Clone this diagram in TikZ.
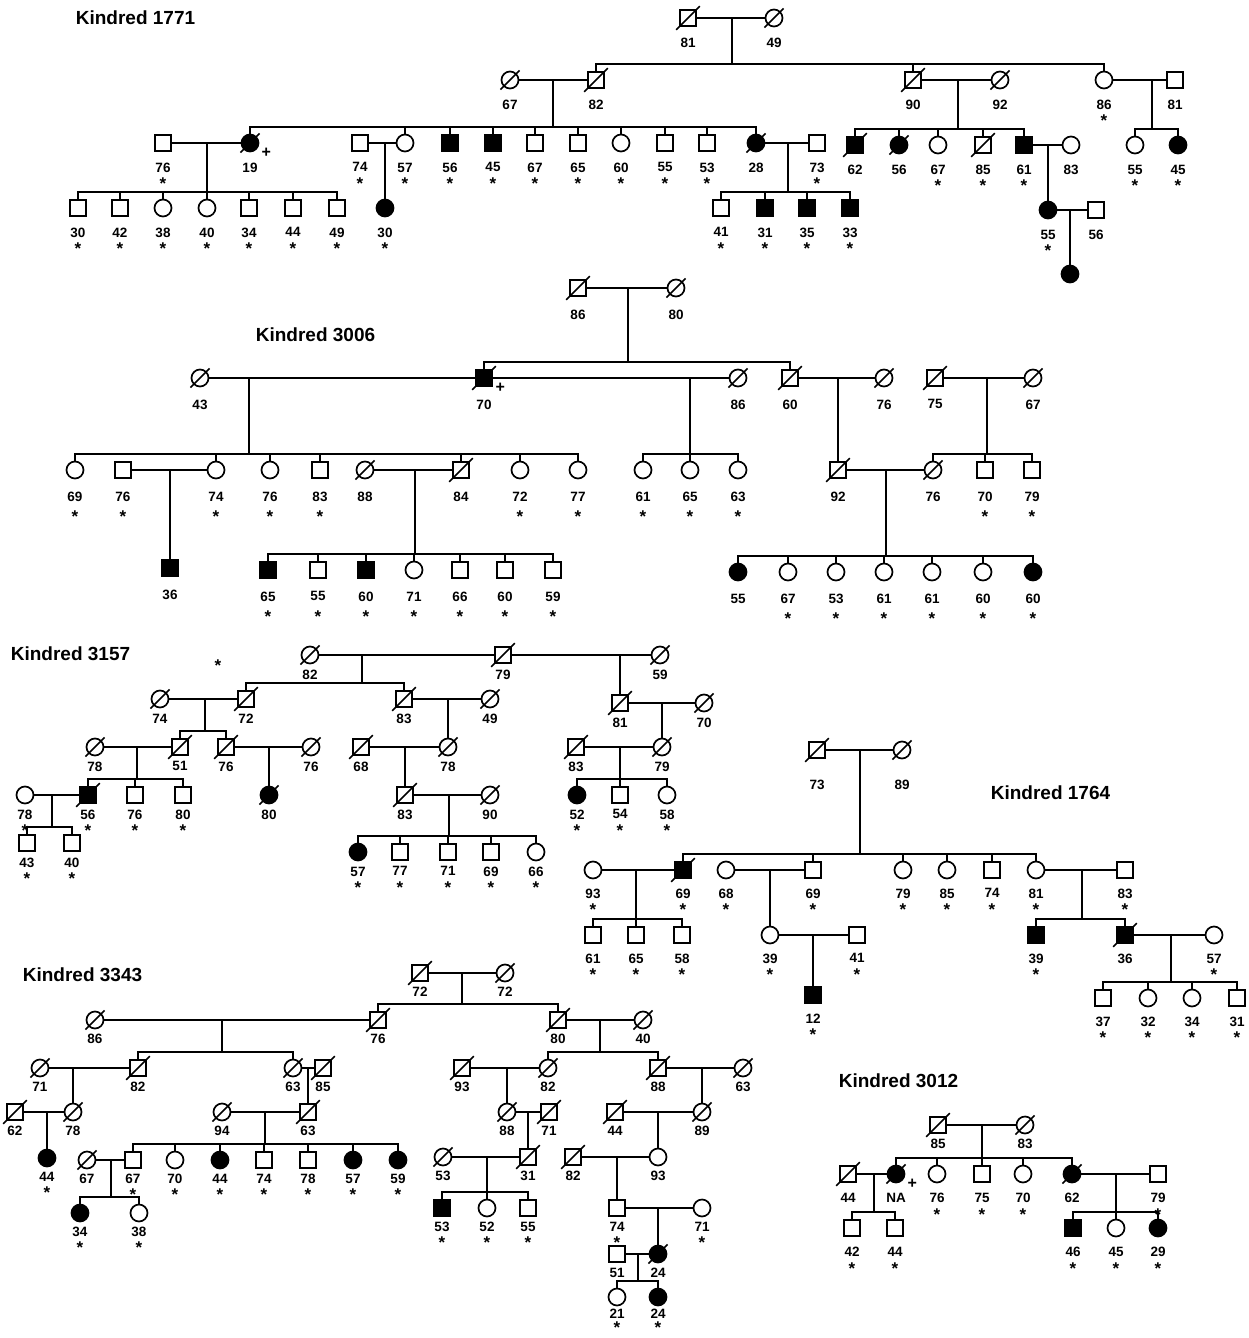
\documentclass[tikz,border=0pt]{standalone}
\usepackage{fontspec}
\setmainfont{Liberation Sans}

% descent line, sibship bar and stubs
\newcommand{\sibs}[4]{%
  \draw[shorten >=7pt] (#1) -- (#1 |- #2.north);
  \draw (#2.north) -- ++(0,-7) -| (#3.north);
  \foreach \kid in {#4} \draw (\kid.north) -- ++(0,-7);
}
% slash through deceased individuals
\newcommand{\deceased}[1]{%
  \foreach \who in {#1}
    \draw ([shift={(-3,3)}]\who.south west) -- ([shift={(3,-3)}]\who.north east);
}

\begin{document}
\begin{tikzpicture}[x=1pt, y=-1pt, line width=1.7pt,
    ma/.style={draw, rectangle, minimum size=16pt, inner sep=0pt, fill=white},
    fe/.style={draw, circle, minimum size=17pt, inner sep=0pt, fill=white},
    aff/.style={fill=black},
    lbl/.style={font=\fontsize{13.5}{13.5}\selectfont\bfseries, inner sep=0pt},
    stars/.style={font=\fontsize{17}{17}\selectfont\bfseries, inner sep=0pt},
    yr/.style={label={[lbl]below:#1}},
    seen/.style={label={[stars]below:*}},
    marked/.style={label={[lbl, font=\fontsize{16}{16}\selectfont\bfseries, label distance=2pt]-20:+}},
    kin/.style={font=\fontsize{19}{19}\selectfont\bfseries, anchor=west, inner sep=0pt}
]
\useasboundingbox (0,0) rectangle (1249,1338);

%% Kindred 1771
\begin{scope}[lbl/.append style={label distance=10pt}, stars/.append style={label distance=25pt}]
\node[kin] (t1771) at (75,18) {Kindred 1771};
% generation I
\node[ma, yr=81] (a11) at (688,18) {};
\node[fe, yr=49] (a12) at (774,18) {};
\coordinate (ad1) at (732,18);
\draw (a11) -- (a12);
% generation II
\node[fe, yr=67] (a21) at (510,80) {};
\node[ma, yr=82] (a22) at (596,80) {};
\node[ma, yr=90] (a23) at (913,80) {};
\node[fe, yr=92] (a24) at (1000,80) {};
\node[fe, yr=86, seen] (a25) at (1104,80) {};
\node[ma, yr=81] (a26) at (1175,80) {};
\coordinate (ad2) at (553,80);
\coordinate (ad3) at (958,80);
\coordinate (ad4) at (1152,80);
\draw (a21) -- (a22);
\draw (a23) -- (a24);
\draw (a25) -- (a26);
\sibs{ad1}{a22}{a25}{a22,a23,a25}
% generation III
\node[ma, yr=76, seen] (a31) at (163,143) {};
\node[fe, aff, yr=19, marked] (a32) at (250,143) {};
\node[ma, yr=74, seen] (a33) at (360,143) {};
\node[fe, yr=57, seen] (a34) at (405,143) {};
\node[ma, aff, yr=56, seen] (a35) at (450,143) {};
\node[ma, aff, yr=45, seen] (a36) at (493,143) {};
\node[ma, yr=67, seen] (a37) at (535,143) {};
\node[ma, yr=65, seen] (a38) at (578,143) {};
\node[fe, yr=60, seen] (a39) at (621,143) {};
\node[ma, yr=55, seen] (a310) at (665,143) {};
\node[ma, yr=53, seen] (a311) at (707,143) {};
\node[fe, aff, yr=28] (a312) at (756,143) {};
\node[ma, yr=73, seen] (a313) at (817,143) {};
\node[ma, aff, yr=62] (a314) at (855,145) {};
\node[fe, aff, yr=56] (a315) at (899,145) {};
\node[fe, yr=67, seen] (a316) at (938,145) {};
\node[ma, yr=85, seen] (a317) at (983,145) {};
\node[ma, aff, yr=61, seen] (a318) at (1024,145) {};
\node[fe, yr=83] (a319) at (1071,145) {};
\node[fe, yr=55, seen] (a320) at (1135,145) {};
\node[fe, aff, yr=45, seen] (a321) at (1178,145) {};
\sibs{ad2}{a32}{a312}{a32,a34,a35,a36,a37,a38,a39,a310,a311,a312}
\sibs{ad3}{a314}{a318}{a314,a315,a316,a317,a318}
\sibs{ad4}{a320}{a321}{a320,a321}
\coordinate (ad5) at (207,143);
\coordinate (ad6) at (385,143);
\coordinate (ad7) at (788,143);
\coordinate (ad8) at (1048,145);
\draw (a31) -- (a32);
\draw (a33) -- (a34);
\draw (a312) -- (a313);
\draw (a318) -- (a319);
% generation IV
\node[ma, yr=30, seen] (a41) at (78,208) {};
\node[ma, yr=42, seen] (a42) at (120,208) {};
\node[fe, yr=38, seen] (a43) at (163,208) {};
\node[fe, yr=40, seen] (a44) at (207,208) {};
\node[ma, yr=34, seen] (a45) at (249,208) {};
\node[ma, yr=44, seen] (a46) at (293,208) {};
\node[ma, yr=49, seen] (a47) at (337,208) {};
\node[fe, aff, yr=30, seen] (a48) at (385,208) {};
\node[ma, yr=41, seen] (a49) at (721,208) {};
\node[ma, aff, yr=31, seen] (a410) at (765,208) {};
\node[ma, aff, yr=35, seen] (a411) at (807,208) {};
\node[ma, aff, yr=33, seen] (a412) at (850,208) {};
\node[fe, aff, yr=55, seen] (a413) at (1048,210) {};
\node[ma, yr=56] (a414) at (1096,210) {};
\sibs{ad5}{a41}{a47}{a41,a42,a43,a44,a45,a46,a47}
\draw (ad6) -- (a48.north);
\sibs{ad7}{a49}{a412}{a49,a410,a411,a412}
\draw (ad8) -- (a413.north);
\draw (a413) -- (a414);
\coordinate (ad9) at (1070,210);
\node[fe, aff] (a51) at (1070,274) {};
\draw (ad9) -- (a51.north);
\deceased{a11,a12,a21,a22,a23,a24,a32,a312,a314,a315,a317}
\end{scope}

%% Kindred 3006
\begin{scope}[lbl/.append style={label distance=12pt}, stars/.append style={label distance=31pt}]
\node[kin] (t3006) at (255,335) {Kindred 3006};
% generation I
\node[ma, yr=86] (b11) at (578,288) {};
\node[fe, yr=80] (b12) at (676,288) {};
\coordinate (bd1) at (628,288);
\draw (b11) -- (b12);
% generation II
\node[fe, yr=43] (b21) at (200,378) {};
\node[ma, aff, yr=70, marked] (b22) at (484,378) {};
\node[fe, yr=86] (b23) at (738,378) {};
\node[ma, yr=60] (b24) at (790,378) {};
\node[fe, yr=76] (b25) at (884,378) {};
\node[ma, yr=75] (b26) at (935,378) {};
\node[fe, yr=67] (b27) at (1033,378) {};
\sibs{bd1}{b22}{b24}{b22,b24}
\coordinate (bd2) at (249,378);
\coordinate (bd3) at (690,378);
\coordinate (bd4) at (838,378);
\coordinate (bd5) at (987,378);
\draw (b21) -- (b22);
\draw (b22) -- (b23);
\draw (b24) -- (b25);
\draw (b26) -- (b27);
% generation III
\node[fe, yr=69, seen] (b31) at (75,470) {};
\node[ma, yr=76, seen] (b32) at (123,470) {};
\node[fe, yr=74, seen] (b33) at (216,470) {};
\node[fe, yr=76, seen] (b34) at (270,470) {};
\node[ma, yr=83, seen] (b35) at (320,470) {};
\node[fe, yr=88] (b36) at (365,470) {};
\node[ma, yr=84] (b37) at (461,470) {};
\node[fe, yr=72, seen] (b38) at (520,470) {};
\node[fe, yr=77, seen] (b39) at (578,470) {};
\node[fe, yr=61, seen] (b310) at (643,470) {};
\node[fe, yr=65, seen] (b311) at (690,470) {};
\node[fe, yr=63, seen] (b312) at (738,470) {};
\node[ma, yr=92] (b313) at (838,470) {};
\node[fe, yr=76] (b314) at (933,470) {};
\node[ma, yr=70, seen] (b315) at (985,470) {};
\node[ma, yr=79, seen] (b316) at (1032,470) {};
\sibs{bd2}{b31}{b39}{b31,b33,b34,b35,b37,b38,b39}
\sibs{bd3}{b310}{b312}{b310,b311,b312}
\draw (bd4) -- (b313.north);
\sibs{bd5}{b314}{b316}{b314,b315,b316}
\coordinate (bd6) at (170,470);
\coordinate (bd7) at (415,470);
\coordinate (bd8) at (886,470);
\draw (b32) -- (b33);
\draw (b36) -- (b37);
\draw (b313) -- (b314);
% generation IV
\node[ma, aff, yr=36] (b41) at (170,568) {};
\node[ma, aff, yr=65, seen] (b42) at (268,570) {};
\node[ma, yr=55, seen] (b43) at (318,570) {};
\node[ma, aff, yr=60, seen] (b44) at (366,570) {};
\node[fe, yr=71, seen] (b45) at (414,570) {};
\node[ma, yr=66, seen] (b46) at (460,570) {};
\node[ma, yr=60, seen] (b47) at (505,570) {};
\node[ma, yr=59, seen] (b48) at (553,570) {};
\node[fe, aff, yr=55] (b49) at (738,572) {};
\node[fe, yr=67, seen] (b410) at (788,572) {};
\node[fe, yr=53, seen] (b411) at (836,572) {};
\node[fe, yr=61, seen] (b412) at (884,572) {};
\node[fe, yr=61, seen] (b413) at (932,572) {};
\node[fe, yr=60, seen] (b414) at (983,572) {};
\node[fe, aff, yr=60, seen] (b415) at (1033,572) {};
\draw (bd6) -- (b41.north);
\sibs{bd7}{b42}{b48}{b42,b43,b44,b45,b46,b47,b48}
\sibs{bd8}{b49}{b415}{b49,b410,b411,b412,b413,b414,b415}
\deceased{b11,b12,b21,b22,b23,b24,b25,b26,b27,b36,b37,b313,b314}
\end{scope}

%% Kindred 3157
\begin{scope}[lbl/.append style={label distance=5pt}, stars/.append style={label distance=20pt}]
\node[kin] (t3157) at (10,654) {Kindred 3157};
\node[stars] (c0) at (218,666) {*};
% generation I
\node[fe, yr=82] (c11) at (310,655) {};
\node[ma, yr=79] (c12) at (503,655) {};
\node[fe, yr=59] (c13) at (660,655) {};
\coordinate (cd1) at (362,655);
\coordinate (cd2) at (620,655);
\draw (c11) -- (c12);
\draw (c12) -- (c13);
% generation II
\node[fe, yr=74] (c21) at (160,699) {};
\node[ma, yr=72] (c22) at (246,699) {};
\node[ma, yr=83] (c23) at (404,699) {};
\node[fe, yr=49] (c24) at (490,699) {};
\node[ma, yr=81] (c25) at (620,703) {};
\node[fe, yr=70] (c26) at (704,703) {};
\sibs{cd1}{c22}{c23}{c22,c23}
\draw (cd2) -- (c25.north);
\coordinate (cd3) at (205,699);
\coordinate (cd4) at (448,699);
\coordinate (cd5) at (662,703);
\draw (c21) -- (c22);
\draw (c23) -- (c24);
\draw (c25) -- (c26);
% generation III
\node[fe, yr=78] (c31) at (95,747) {};
\node[ma, yr=51] (c32) at (180,747) {};
\node[ma, yr=76] (c33) at (226,747) {};
\node[fe, yr=76] (c34) at (311,747) {};
\node[ma, yr=68] (c35) at (361,747) {};
\node[fe, yr=78] (c36) at (448,747) {};
\node[ma, yr=83] (c37) at (576,747) {};
\node[fe, yr=79] (c38) at (662,747) {};
\sibs{cd3}{c32}{c33}{c32,c33}
\draw (cd4) -- (c36.north);
\draw (cd5) -- (c38.north);
\coordinate (cd6) at (137,747);
\coordinate (cd7) at (269,747);
\coordinate (cd8) at (405,747);
\coordinate (cd9) at (620,747);
\draw (c31) -- (c32);
\draw (c33) -- (c34);
\draw (c35) -- (c36);
\draw (c37) -- (c38);
% generation IV
\node[fe, yr=78, seen] (c41) at (25,795) {};
\node[ma, aff, yr=56, seen] (c42) at (88,795) {};
\node[ma, yr=76, seen] (c43) at (135,795) {};
\node[ma, yr=80, seen] (c44) at (183,795) {};
\node[fe, aff, yr=80] (c45) at (269,795) {};
\node[ma, yr=83] (c46) at (405,795) {};
\node[fe, yr=90] (c47) at (490,795) {};
\node[fe, aff, yr=52, seen] (c48) at (577,795) {};
\node[ma, yr=54, seen] (c49) at (620,795) {};
\node[fe, yr=58, seen] (c410) at (667,795) {};
\sibs{cd6}{c42}{c44}{c42,c43,c44}
\draw (cd7) -- (c45.north);
\draw (cd8) -- (c46.north);
\sibs{cd9}{c48}{c410}{c48,c49,c410}
\coordinate (cd10) at (52,795);
\coordinate (cd11) at (449,795);
\draw (c41) -- (c42);
\draw (c46) -- (c47);
% generation V
\node[ma, yr=43, seen] (c51) at (27,843) {};
\node[ma, yr=40, seen] (c52) at (72,843) {};
\node[fe, aff, yr=57, seen] (c53) at (358,852) {};
\node[ma, yr=77, seen] (c54) at (400,852) {};
\node[ma, yr=71, seen] (c55) at (448,852) {};
\node[ma, yr=69, seen] (c56) at (491,852) {};
\node[fe, yr=66, seen] (c57) at (536,852) {};
\sibs{cd10}{c51}{c52}{c51,c52}
\sibs{cd11}{c53}{c57}{c53,c54,c55,c56,c57}
\deceased{c11,c12,c13,c21,c22,c23,c24,c25,c26,c31,c32,c33,c34,c35,c36,c37,c38,c42,c45,c46,c47}
\end{scope}

%% Kindred 1764
\begin{scope}[lbl/.append style={label distance=9pt}, stars/.append style={label distance=24pt}]
\node[kin] (t1764) at (990,793) {Kindred 1764};
% generation I
\node[ma, label={[lbl, label distance=20pt]below:73}] (d11) at (817,750) {};
\node[fe, label={[lbl, label distance=20pt]below:89}] (d12) at (902,750) {};
\coordinate (dd1) at (860,750);
\draw (d11) -- (d12);
% generation II
\node[fe, yr=93, seen] (d21) at (593,870) {};
\node[ma, aff, yr=69, seen] (d22) at (683,870) {};
\node[fe, yr=68, seen] (d23) at (726,870) {};
\node[ma, yr=69, seen] (d24) at (813,870) {};
\node[fe, yr=79, seen] (d25) at (903,870) {};
\node[fe, yr=85, seen] (d26) at (947,870) {};
\node[ma, yr=74, seen] (d27) at (992,870) {};
\node[fe, yr=81, seen] (d28) at (1036,870) {};
\node[ma, yr=83, seen] (d29) at (1125,870) {};
\sibs{dd1}{d22}{d28}{d22,d24,d25,d26,d27,d28}
\coordinate (dd2) at (636,870);
\coordinate (dd3) at (770,870);
\coordinate (dd4) at (1082,870);
\draw (d21) -- (d22);
\draw (d23) -- (d24);
\draw (d28) -- (d29);
% generation III
\node[ma, yr=61, seen] (d31) at (593,935) {};
\node[ma, yr=65, seen] (d32) at (636,935) {};
\node[ma, yr=58, seen] (d33) at (682,935) {};
\node[fe, yr=39, seen] (d34) at (770,935) {};
\node[ma, yr=41, seen] (d35) at (857,935) {};
\node[ma, aff, yr=39, seen] (d36) at (1036,935) {};
\node[ma, aff, yr=36] (d37) at (1125,935) {};
\node[fe, yr=57, seen] (d38) at (1214,935) {};
\sibs{dd2}{d31}{d33}{d31,d32,d33}
\draw (dd3) -- (d34.north);
\sibs{dd4}{d36}{d37}{d36,d37}
\coordinate (dd5) at (813,935);
\coordinate (dd6) at (1171,935);
\draw (d34) -- (d35);
\draw (d37) -- (d38);
% generation IV
\node[ma, aff, yr=12, seen] (d41) at (813,995) {};
\node[ma, yr=37, seen] (d42) at (1103,998) {};
\node[fe, yr=32, seen] (d43) at (1148,998) {};
\node[fe, yr=34, seen] (d44) at (1192,998) {};
\node[ma, yr=31, seen] (d45) at (1237,998) {};
\draw (dd5) -- (d41.north);
\sibs{dd6}{d42}{d45}{d42,d43,d44,d45}
\deceased{d11,d12,d22,d37}
\end{scope}

%% Kindred 3343
\begin{scope}[lbl/.append style={label distance=4pt}, stars/.append style={label distance=19pt}]
\node[kin] (t3343) at (22,975) {Kindred 3343};
% generation I
\node[ma, yr=72] (e11) at (420,973) {};
\node[fe, yr=72] (e12) at (505,973) {};
\coordinate (ed1) at (462,973);
\draw (e11) -- (e12);
% generation II
\node[fe, yr=86] (e21) at (95,1020) {};
\node[ma, yr=76] (e22) at (378,1020) {};
\node[ma, yr=80] (e23) at (558,1020) {};
\node[fe, yr=40] (e24) at (643,1020) {};
\sibs{ed1}{e22}{e23}{e22,e23}
\coordinate (ed2) at (222,1020);
\coordinate (ed3) at (600,1020);
\draw (e21) -- (e22);
\draw (e23) -- (e24);
% generation III
\node[fe, yr=71] (e31) at (40,1068) {};
\node[ma, yr=82] (e32) at (138,1068) {};
\node[fe, yr=63] (e33) at (293,1068) {};
\node[ma, yr=85] (e34) at (323,1068) {};
\node[ma, yr=93] (e35) at (462,1068) {};
\node[fe, yr=82] (e36) at (548,1068) {};
\node[ma, yr=88] (e37) at (658,1068) {};
\node[fe, yr=63] (e38) at (743,1068) {};
\sibs{ed2}{e32}{e33}{e32,e33}
\sibs{ed3}{e36}{e37}{e36,e37}
\coordinate (ed4) at (73,1068);
\coordinate (ed5) at (308,1068);
\coordinate (ed6) at (507,1068);
\coordinate (ed7) at (702,1068);
\draw (e31) -- (e32);
\draw (e33) -- (e34);
\draw (e35) -- (e36);
\draw (e37) -- (e38);
% generation IV
\node[ma, yr=62] (e41) at (15,1112) {};
\node[fe, yr=78] (e42) at (73,1112) {};
\node[fe, yr=94] (e43) at (222,1112) {};
\node[ma, yr=63] (e44) at (308,1112) {};
\node[fe, yr=88] (e45) at (507,1112) {};
\node[ma, yr=71] (e46) at (549,1112) {};
\node[ma, yr=44] (e47) at (615,1112) {};
\node[fe, yr=89] (e48) at (702,1112) {};
\draw (ed4) -- (e42.north);
\draw (ed5) -- (e44.north);
\draw (ed6) -- (e45.north);
\draw (ed7) -- (e48.north);
\coordinate (ed8) at (47,1112);
\coordinate (ed9) at (265,1112);
\coordinate (ed10) at (528,1112);
\coordinate (ed11) at (658,1112);
\draw (e41) -- (e42);
\draw (e43) -- (e44);
\draw (e45) -- (e46);
\draw (e47) -- (e48);
% generation V
\node[fe, aff, yr=44, seen] (e51) at (47,1158) {};
\node[fe, yr=67] (e52) at (87,1160) {};
\node[ma, yr=67, seen] (e53) at (133,1160) {};
\node[fe, yr=70, seen] (e54) at (175,1160) {};
\node[fe, aff, yr=44, seen] (e55) at (220,1160) {};
\node[ma, yr=74, seen] (e56) at (264,1160) {};
\node[ma, yr=78, seen] (e57) at (308,1160) {};
\node[fe, aff, yr=57, seen] (e58) at (353,1160) {};
\node[fe, aff, yr=59, seen] (e59) at (398,1160) {};
\node[fe, yr=53] (e510) at (443,1157) {};
\node[ma, yr=31] (e511) at (528,1157) {};
\node[ma, yr=82] (e512) at (573,1157) {};
\node[fe, yr=93] (e513) at (658,1157) {};
\draw (ed8) -- (e51.north);
\sibs{ed9}{e53}{e59}{e53,e54,e55,e56,e57,e58,e59}
\draw (ed10) -- (e511.north);
\draw (ed11) -- (e513.north);
\coordinate (ed12) at (111,1160);
\coordinate (ed13) at (487,1157);
\coordinate (ed14) at (617,1157);
\draw (e52) -- (e53);
\draw (e510) -- (e511);
\draw (e512) -- (e513);
% generation VI
\node[fe, aff, yr=34, seen] (e61) at (80,1213) {};
\node[fe, yr=38, seen] (e62) at (139,1213) {};
\node[ma, aff, yr=53, seen] (e63) at (442,1208) {};
\node[fe, yr=52, seen] (e64) at (487,1208) {};
\node[ma, yr=55, seen] (e65) at (528,1208) {};
\node[ma, yr=74, seen] (e66) at (617,1208) {};
\node[fe, yr=71, seen] (e67) at (702,1208) {};
\sibs{ed12}{e61}{e62}{e61,e62}
\sibs{ed13}{e63}{e65}{e63,e64,e65}
\draw (ed14) -- (e66.north);
\coordinate (ed15) at (658,1208);
\draw (e66) -- (e67);
% generation VII
\node[ma, yr=51] (e70) at (617,1254) {};
\node[fe, aff, yr=24] (e71) at (658,1254) {};
\draw (ed15) -- (e71.north);
\coordinate (ed16) at (638,1254);
\draw (e70) -- (e71);
% generation VIII
\node[fe, label={[lbl, label distance=2pt]below:21}, label={[stars, label distance=15pt]below:*}] (e81) at (617,1297) {};
\node[fe, aff, label={[lbl, label distance=2pt]below:24}, label={[stars, label distance=15pt]below:*}] (e82) at (658,1297) {};
\sibs{ed16}{e81}{e82}{e81,e82}
\deceased{e11,e12,e21,e22,e23,e24,e31,e32,e33,e34,e35,e36,e37,e38,e41,e42,e43,e44,e45,e46,e47,e48,e52,e510,e511,e512,e71}
\end{scope}

%% Kindred 3012
\begin{scope}[lbl/.append style={label distance=9pt}, stars/.append style={label distance=25pt}]
\node[kin] (t3012) at (838,1081) {Kindred 3012};
% generation I
\node[ma, label={[lbl, label distance=4pt]below:85}] (f11) at (938,1125) {};
\node[fe, label={[lbl, label distance=4pt]below:83}] (f12) at (1025,1125) {};
\coordinate (fd1) at (982,1125);
\draw (f11) -- (f12);
% generation II
\node[ma, yr=44] (f21) at (848,1174) {};
\node[fe, aff, yr=NA, marked] (f22) at (896,1174) {};
\node[fe, yr=76, seen] (f23) at (937,1174) {};
\node[ma, yr=75, seen] (f24) at (982,1174) {};
\node[fe, yr=70, seen] (f25) at (1023,1174) {};
\node[fe, aff, yr=62] (f26) at (1072,1174) {};
\node[ma, yr=79, seen] (f27) at (1158,1174) {};
\sibs{fd1}{f22}{f26}{f22,f23,f24,f25,f26}
\coordinate (fd2) at (874,1174);
\coordinate (fd3) at (1116,1174);
\draw (f21) -- (f22);
\draw (f26) -- (f27);
% generation III
\node[ma, yr=42, seen] (f31) at (852,1228) {};
\node[ma, yr=44, seen] (f32) at (895,1228) {};
\node[ma, aff, yr=46, seen] (f33) at (1073,1228) {};
\node[fe, yr=45, seen] (f34) at (1116,1228) {};
\node[fe, aff, yr=29, seen] (f35) at (1158,1228) {};
\sibs{fd2}{f31}{f32}{f31,f32}
\sibs{fd3}{f33}{f35}{f33,f34,f35}
\deceased{f11,f12,f21,f22,f26}
\end{scope}

\end{tikzpicture}
\end{document}
